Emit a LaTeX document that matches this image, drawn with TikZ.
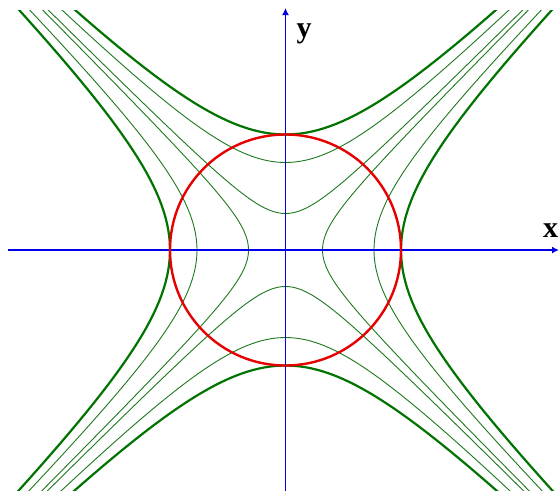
\documentclass[tikz,border=0pt]{standalone}
\usepackage{fontspec}
\setmainfont{Liberation Serif}
\usetikzlibrary{arrows.meta}
\definecolor{axisblue}{RGB}{0,0,230}
\definecolor{circred}{RGB}{230,0,0}
\definecolor{hypgreen}{RGB}{0,115,0}
\definecolor{thingreen}{RGB}{30,120,30}
\tikzset{
  axisline/.style={draw=axisblue, line width=1.7pt, -{Latex[length=7pt,width=7pt]}},
  mainhyp/.style={draw=hypgreen, line width=2.2pt},
  thinhyp/.style={draw=thingreen, line width=0.9pt},
  circline/.style={draw=circred, line width=2.4pt},
  axislabel/.style={font=\bfseries\fontsize{30}{30}\selectfont, inner sep=0pt, anchor=base}
}
\newcommand{\hypH}[2]{% horizontal opening, a=#1, style #2
  \draw[#2] plot[domain=-3:3, samples=120, variable=\t] ({285.5+#1*cosh(\t)}, {250+#1*sinh(\t)});
  \draw[#2] plot[domain=-3:3, samples=120, variable=\t] ({285.5-#1*cosh(\t)}, {250+#1*sinh(\t)});
}
\newcommand{\hypV}[2]{% vertical opening
  \draw[#2] plot[domain=-3:3, samples=120, variable=\t] ({285.5+#1*sinh(\t)}, {250+#1*cosh(\t)});
  \draw[#2] plot[domain=-3:3, samples=120, variable=\t] ({285.5+#1*sinh(\t)}, {250-#1*cosh(\t)});
}
\begin{document}
\begin{tikzpicture}[x=1pt,y=-1pt]
\useasboundingbox (0,0) rectangle (559,491);
\coordinate (O) at (285.5,250);
\begin{scope}
  \clip (0,10) rectangle (559,490.5);
  \hypH{37}{thinhyp}
  \hypH{88.5}{thinhyp}
  \hypV{36.5}{thinhyp}
  \hypV{87.5}{thinhyp}
  \hypH{115.5}{mainhyp}
  \hypV{115.5}{mainhyp}
\end{scope}
\coordinate (xs) at (8,250);
\coordinate (xe) at (559,250);
\coordinate (ys) at (285.5,491);
\coordinate (ye) at (285.5,8);
\draw[axisline] (xs) -- (xe);
\draw[axisline] (ys) -- (ye);
\draw[circline] (O) circle (115.5);
\node[axislabel] (ylab) at (304,37) {y};
\node[axislabel] (xlab) at (550.5,237) {x};
\end{tikzpicture}
\end{document}
